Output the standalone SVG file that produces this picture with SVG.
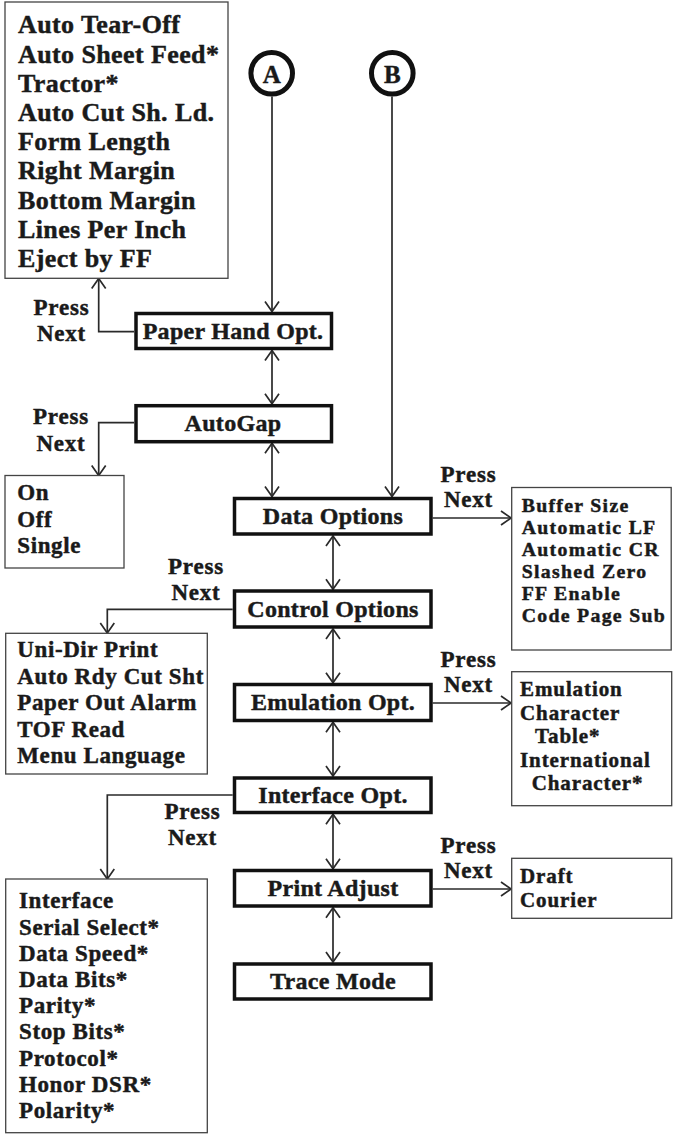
<svg xmlns="http://www.w3.org/2000/svg" width="673" height="1134" viewBox="0 0 673 1134">
<style>
text{font-family:"Liberation Serif","Times New Roman",serif;font-weight:bold;fill:#1a1a1a;stroke:#1a1a1a;stroke-width:0.45px}
.tl{font-size:26px;letter-spacing:0.4px}
.nd{font-size:24px;letter-spacing:0.3px;text-anchor:middle}
.ls{font-size:23px;letter-spacing:0.6px}
.rl{font-size:21px;letter-spacing:0.9px}
.rs{font-size:19.8px;letter-spacing:1.3px}
.pn{font-size:23px;letter-spacing:0.8px;text-anchor:middle}
.cl{font-size:25px;text-anchor:middle}
.box{fill:#fff;stroke:#111;stroke-width:3.5}
.list{fill:#fff;stroke:#444;stroke-width:1.3}
.ring{fill:#fff;stroke:#111;stroke-width:5}
.c{fill:none;stroke:#2a2a2a;stroke-width:1.7}
.e{marker-end:url(#ah)}
.b{marker-start:url(#ah);marker-end:url(#ah)}
</style>
<defs>
<marker id="ah" markerUnits="userSpaceOnUse" markerWidth="14" markerHeight="16" viewBox="0 0 14 16" refX="12" refY="8" orient="auto-start-reverse">
<path d="M2,1 L12,8 L2,15" fill="none" stroke="#2a2a2a" stroke-width="1.7"/>
</marker>
</defs>
<rect width="673" height="1134" fill="#fff"/>

<g id="connectors">
<path class="c e" d="M272,96.5 V311.5"/>
<path class="c e" d="M392,96.5 V496.5"/>
<path class="c b" d="M272,350.5 V403.8"/>
<path class="c b" d="M272,443.3 V496.5"/>
<path class="c b" d="M333,536 V589.3"/>
<path class="c b" d="M333,629 V682.7"/>
<path class="c b" d="M333,722.3 V776"/>
<path class="c b" d="M333,814.3 V868.7"/>
<path class="c b" d="M333,907.7 V962"/>
<path class="c e" d="M134,331.7 H98.7 V278.5"/>
<path class="c e" d="M134,422.7 H98.7 V475.5"/>
<path class="c e" d="M232.7,609.3 H107.3 V633"/>
<path class="c e" d="M232.7,795 H107.3 V879"/>
<path class="c e" d="M432.7,518 H511"/>
<path class="c e" d="M432.7,703 H511"/>
<path class="c e" d="M432.7,889 H511"/>
</g>

<g id="circleA"><circle class="ring" cx="271.7" cy="73.3" r="20.8"/><text class="cl" x="271.7" y="83">A</text></g>
<g id="circleB"><circle class="ring" cx="392.3" cy="73.3" r="20.8"/><text class="cl" x="392.3" y="83">B</text></g>

<g id="paperHandList">
<rect class="list" x="5" y="2" width="223" height="276.3"/>
<text class="tl" x="18" y="33.3">Auto Tear-Off</text>
<text class="tl" x="18" y="62.5">Auto Sheet Feed*</text>
<text class="tl" x="18" y="91.7">Tractor*</text>
<text class="tl" x="18" y="120.9">Auto Cut Sh. Ld.</text>
<text class="tl" x="18" y="150.1">Form Length</text>
<text class="tl" x="18" y="179.3">Right Margin</text>
<text class="tl" x="18" y="208.5">Bottom Margin</text>
<text class="tl" x="18" y="237.7">Lines Per Inch</text>
<text class="tl" x="18" y="266.9">Eject by FF</text>
</g>

<g id="pressNext1"><text class="pn" x="61.5" y="315">Press</text><text class="pn" x="61.5" y="341">Next</text></g>
<g id="paperHand"><rect class="box" x="136" y="313.5" width="195.5" height="35"/><text class="nd" x="233" y="338.5">Paper Hand Opt.</text></g>

<g id="pressNext2"><text class="pn" x="61" y="424">Press</text><text class="pn" x="61" y="450.7">Next</text></g>
<g id="autoGap"><rect class="box" x="136" y="405.7" width="195.5" height="36"/><text class="nd" x="233" y="430.5">AutoGap</text></g>

<g id="autoGapList">
<rect class="list" x="5" y="475.5" width="119" height="92.5"/>
<text class="ls" x="17.3" y="500">On</text>
<text class="ls" x="17.3" y="527">Off</text>
<text class="ls" x="17.3" y="553">Single</text>
</g>

<g id="dataOptions"><rect class="box" x="234.5" y="498.5" width="196.5" height="35.5"/><text class="nd" x="333" y="523.5">Data Options</text></g>
<g id="pressNext3"><text class="pn" x="468.5" y="481.7">Press</text><text class="pn" x="468.5" y="506.7">Next</text></g>
<g id="dataList">
<rect class="list" x="511.7" y="487.5" width="159.5" height="162.5"/>
<text class="rs" x="521.7" y="511.7">Buffer Size</text>
<text class="rs" x="521.7" y="533.7">Automatic LF</text>
<text class="rs" x="521.7" y="555.7">Automatic CR</text>
<text class="rs" x="521.7" y="577.7">Slashed Zero</text>
<text class="rs" x="521.7" y="599.7">FF Enable</text>
<text class="rs" x="521.7" y="621.7">Code Page Sub</text>
</g>

<g id="pressNext4"><text class="pn" x="196" y="574.3">Press</text><text class="pn" x="196" y="600">Next</text></g>
<g id="controlOptions"><rect class="box" x="234.5" y="591" width="196.5" height="36"/><text class="nd" x="333" y="616.5">Control Options</text></g>
<g id="controlList">
<rect class="list" x="5.7" y="633.3" width="201.6" height="140.7"/>
<text class="ls" x="17.3" y="657.3">Uni-Dir Print</text>
<text class="ls" x="17.3" y="683.8">Auto Rdy Cut Sht</text>
<text class="ls" x="17.3" y="710.3">Paper Out Alarm</text>
<text class="ls" x="17.3" y="736.8">TOF Read</text>
<text class="ls" x="17.3" y="763.3">Menu Language</text>
</g>

<g id="emulationOpt"><rect class="box" x="234.5" y="684.5" width="196.5" height="36"/><text class="nd" x="333" y="710">Emulation Opt.</text></g>
<g id="pressNext5"><text class="pn" x="468.5" y="666.7">Press</text><text class="pn" x="468.5" y="691.7">Next</text></g>
<g id="emulationList">
<rect class="list" x="511.7" y="671.7" width="160" height="134"/>
<text class="rl" x="520" y="696">Emulation</text>
<text class="rl" x="520" y="720">Character</text>
<text class="rl" x="535" y="743.3">Table*</text>
<text class="rl" x="520" y="766.7">International</text>
<text class="rl" x="531.7" y="790">Character*</text>
</g>

<g id="interfaceOpt"><rect class="box" x="234.5" y="778" width="196.5" height="34.5"/><text class="nd" x="333" y="802.5">Interface Opt.</text></g>
<g id="pressNext6"><text class="pn" x="192.5" y="819">Press</text><text class="pn" x="192.5" y="845">Next</text></g>
<g id="interfaceList">
<rect class="list" x="5.7" y="879" width="201.6" height="253.7"/>
<text class="ls" x="19" y="908.3">Interface</text>
<text class="ls" x="19" y="934.5">Serial Select*</text>
<text class="ls" x="19" y="960.7">Data Speed*</text>
<text class="ls" x="19" y="986.9">Data Bits*</text>
<text class="ls" x="19" y="1013.1">Parity*</text>
<text class="ls" x="19" y="1039.3">Stop Bits*</text>
<text class="ls" x="19" y="1065.5">Protocol*</text>
<text class="ls" x="19" y="1091.7">Honor DSR*</text>
<text class="ls" x="19" y="1117.9">Polarity*</text>
</g>

<g id="printAdjust"><rect class="box" x="234.5" y="870.5" width="196.5" height="35.5"/><text class="nd" x="333" y="895.5">Print Adjust</text></g>
<g id="pressNext7"><text class="pn" x="468.5" y="853.3">Press</text><text class="pn" x="468.5" y="878.3">Next</text></g>
<g id="printList">
<rect class="list" x="511.7" y="858.3" width="160" height="60"/>
<text class="rl" x="520" y="883.3">Draft</text>
<text class="rl" x="520" y="907.3">Courier</text>
</g>

<g id="traceMode"><rect class="box" x="234.5" y="964" width="196.5" height="35"/><text class="nd" x="333" y="989">Trace Mode</text></g>
</svg>
